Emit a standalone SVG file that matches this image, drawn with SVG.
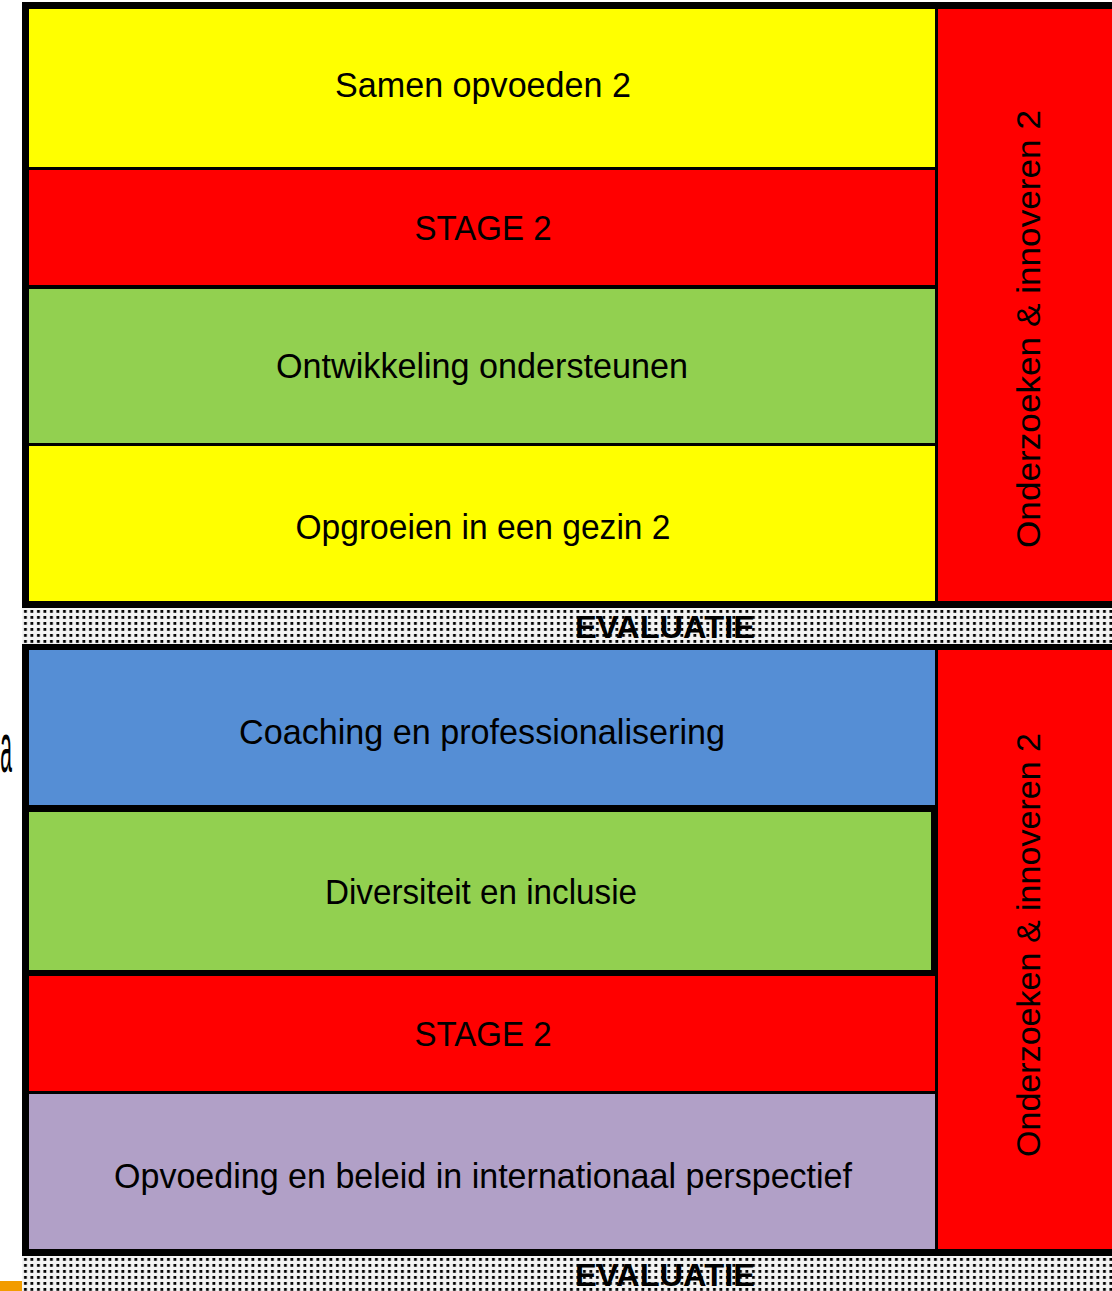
<svg xmlns="http://www.w3.org/2000/svg" width="1112" height="1291" viewBox="0 0 1112 1291">
  <defs>
    <pattern id="dots" x="22" y="608" width="6.5" height="6" patternUnits="userSpaceOnUse">
      <rect width="6.5" height="6" fill="#f3f3f3"/>
      <rect x="2" y="2" width="2.8" height="2.8" fill="#000"/>
    </pattern>
  </defs>
  <style>
    .lbl { font-family: "Liberation Sans", Arial, sans-serif; font-size: 35px; fill: #000; text-anchor: middle; }
    .vert { font-family: "Liberation Sans", Arial, sans-serif; font-size: 33px; fill: #000; text-anchor: middle; }
    .eval { font-family: "Liberation Sans", Arial, sans-serif; font-size: 32px; font-weight: bold; fill: #000; }
  </style>
  <rect width="1112" height="1291" fill="#ffffff"/>

  <!-- left partial text -->
  <text transform="translate(0,772) scale(0.3,1)" x="1" y="0" font-family="Liberation Sans, Arial, sans-serif" font-size="70" fill="#000">a</text>
  <rect x="0" y="1281" width="22" height="10" fill="#f29c00"/>

  <!-- top block frame -->
  <g id="frame-top">
    <rect x="22" y="2" width="1100" height="606" fill="#000"/>
  </g>
  <g id="node-samen">
    <rect x="29" y="9" width="906" height="158" fill="#ffff00"/>
    <text class="lbl" x="483" y="97" textLength="296" lengthAdjust="spacingAndGlyphs">Samen opvoeden 2</text>
  </g>
  <g id="node-stage-top">
    <rect x="29" y="170" width="906" height="115" fill="#ff0000"/>
    <text class="lbl" x="483" y="240" textLength="137" lengthAdjust="spacingAndGlyphs">STAGE 2</text>
  </g>
  <g id="node-ontwikkeling">
    <rect x="29" y="289" width="906" height="154" fill="#92d050"/>
    <text class="lbl" x="482" y="378" textLength="412" lengthAdjust="spacingAndGlyphs">Ontwikkeling ondersteunen</text>
  </g>
  <g id="node-opgroeien">
    <rect x="29" y="446" width="906" height="155" fill="#ffff00"/>
    <text class="lbl" x="483" y="539" textLength="375" lengthAdjust="spacingAndGlyphs">Opgroeien in een gezin 2</text>
  </g>
  <g id="node-onderzoeken-top">
    <rect x="938" y="9" width="174" height="592" fill="#ff0000"/>
    <text class="vert" transform="translate(1040,329) rotate(-90)" textLength="438" lengthAdjust="spacingAndGlyphs">Onderzoeken &amp; innoveren 2</text>
  </g>

  <!-- evaluatie band top -->
  <g id="node-evaluatie-top">
    <rect x="22" y="608" width="1090" height="36" fill="url(#dots)"/>
    <text class="eval" x="575" y="638" textLength="180" lengthAdjust="spacingAndGlyphs">EVALUATIE</text>
  </g>

  <!-- bottom block frame -->
  <g id="frame-bottom">
    <rect x="22" y="644" width="1100" height="612" fill="#000"/>
  </g>
  <g id="node-coaching">
    <rect x="29" y="650" width="906" height="155" fill="#558ed5"/>
    <text class="lbl" x="482" y="744" textLength="486" lengthAdjust="spacingAndGlyphs">Coaching en professionalisering</text>
  </g>
  <g id="node-diversiteit">
    <rect x="29" y="812" width="902" height="158" fill="#92d050"/>
    <text class="lbl" x="481" y="904" textLength="312" lengthAdjust="spacingAndGlyphs">Diversiteit en inclusie</text>
  </g>
  <g id="node-stage-bottom">
    <rect x="29" y="976" width="906" height="115" fill="#ff0000"/>
    <text class="lbl" x="483" y="1046" textLength="137" lengthAdjust="spacingAndGlyphs">STAGE 2</text>
  </g>
  <g id="node-opvoeding">
    <rect x="29" y="1094" width="906" height="155" fill="#b1a0c7"/>
    <text class="lbl" x="483" y="1188" textLength="738" lengthAdjust="spacingAndGlyphs">Opvoeding en beleid in internationaal perspectief</text>
  </g>
  <g id="node-onderzoeken-bottom">
    <rect x="938" y="650" width="174" height="599" fill="#ff0000"/>
    <text class="vert" transform="translate(1040,945) rotate(-90)" textLength="424" lengthAdjust="spacingAndGlyphs">Onderzoeken &amp; innoveren 2</text>
  </g>

  <!-- evaluatie band bottom -->
  <g id="node-evaluatie-bottom">
    <rect x="22" y="1256" width="1090" height="35" fill="url(#dots)"/>
    <text class="eval" x="575" y="1286" textLength="180" lengthAdjust="spacingAndGlyphs">EVALUATIE</text>
  </g>

  <g id="connectors"/>
</svg>
